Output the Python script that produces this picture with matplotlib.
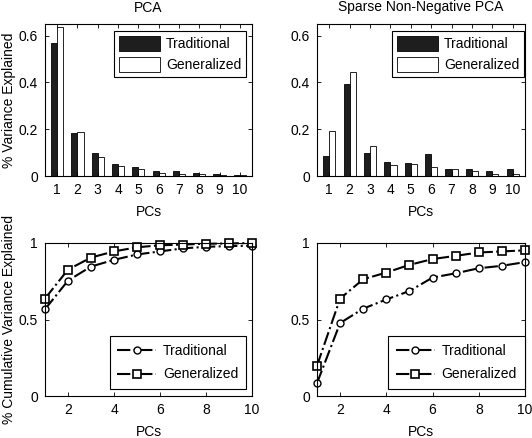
import matplotlib
matplotlib.use("Agg")
import matplotlib.pyplot as plt
import numpy as np

plt.rcParams['font.family'] = ['Liberation Sans', 'DejaVu Sans']
plt.rcParams['font.size'] = 10

pcs = np.arange(1, 11)

pca_trad = [0.568, 0.186, 0.100, 0.053, 0.039, 0.020, 0.020, 0.014, 0.010, 0.006]
pca_gen = [0.637, 0.189, 0.081, 0.043, 0.029, 0.014, 0.010, 0.010, 0.006, 0.006]

snn_trad = [0.086, 0.393, 0.100, 0.061, 0.057, 0.096, 0.029, 0.029, 0.020, 0.029]
snn_gen = [0.193, 0.443, 0.129, 0.047, 0.053, 0.039, 0.029, 0.020, 0.010, 0.010]

cum_pca_trad = [0.567, 0.754, 0.846, 0.890, 0.925, 0.945, 0.965, 0.975, 0.980, 0.982]
cum_pca_gen = [0.637, 0.826, 0.905, 0.945, 0.972, 0.985, 0.990, 0.995, 0.997, 1.000]

cum_snn_trad = [0.084, 0.477, 0.571, 0.631, 0.686, 0.774, 0.802, 0.835, 0.851, 0.875]
cum_snn_gen = [0.198, 0.637, 0.763, 0.807, 0.857, 0.895, 0.916, 0.938, 0.945, 0.952]

titles = ["PCA", "Sparse Non-Negative PCA"]
labels = ["Traditional", "Generalized"]

fig = plt.figure(figsize=(5.32, 4.38), dpi=100)
W, H = 532, 438

def ax_at(l, t, r, b):
    return fig.add_axes([l / W, (H - b) / H, (r - l) / W, (b - t) / H])

def style(ax):
    ax.tick_params(direction='in', length=3, top=True, right=True, width=0.6,
                   labelsize=10, pad=5)
    for s in ax.spines.values():
        s.set_linewidth(0.8)

ax1 = ax_at(45, 24, 252, 176)
ax2 = ax_at(317, 24, 525, 176)
ax3 = ax_at(45, 243, 252, 396)
ax4 = ax_at(317, 243, 525, 396)

bw = 0.3
for ax, tr, ge, title, lx in [(ax1, pca_trad, pca_gen, titles[0], 0.971),
                               (ax2, snn_trad, snn_gen, titles[1], 0.995)]:
    ax.bar(pcs - bw / 2, tr, width=bw, color='#1e1e1e', edgecolor='black',
           linewidth=0.6, label=labels[0])
    ax.bar(pcs + bw / 2, ge, width=bw, color='white', edgecolor='black',
           linewidth=0.6, label=labels[1])
    ax.set_xlim(0.4, 10.6)
    ax.set_ylim(0, 0.65)
    ax.set_xticks(pcs)
    ax.set_yticks([0, 0.2, 0.4, 0.6])
    ax.set_yticklabels(['0', '0.2', '0.4', '0.6'])
    ax.set_xlabel('PCs', labelpad=6)
    ax.set_title(title, fontsize=10, pad=9)
    style(ax)
    leg = ax.legend(loc='upper right', bbox_to_anchor=(lx, 0.954),
                    borderaxespad=0, fancybox=False, framealpha=1,
                    edgecolor='black', handlelength=3.0, handleheight=1.3,
                    handletextpad=0.4, borderpad=0.35, labelspacing=0.42,
                    fontsize=10)
    leg.get_frame().set_linewidth(0.8)

ax1.set_ylabel('% Variance Explained', labelpad=2)

for ax, tr, ge, lx in [(ax3, cum_pca_trad, cum_pca_gen, 0.971),
                        (ax4, cum_snn_trad, cum_snn_gen, 0.998)]:
    ax.plot(pcs, tr, linestyle='-.', color='black', linewidth=1.5, marker='o',
            markersize=5, markerfacecolor='white', markeredgecolor='black',
            markeredgewidth=1.0, label=labels[0], clip_on=False)
    ax.plot(pcs, ge, linestyle='-.', color='black', linewidth=1.5, marker='s',
            markersize=6, markerfacecolor='white', markeredgecolor='black',
            markeredgewidth=1.2, label=labels[1], clip_on=False)
    ax.set_xlim(1, 10)
    ax.set_ylim(0, 1)
    ax.set_xticks([2, 4, 6, 8, 10])
    ax.set_yticks([0, 0.5, 1])
    ax.set_yticklabels(['0', '0.5', '1'])
    ax.set_xlabel('PCs', labelpad=6)
    style(ax)
    leg = ax.legend(loc='lower right', bbox_to_anchor=(lx, 0.045),
                    borderaxespad=0, fancybox=False, framealpha=1,
                    edgecolor='black', handlelength=2.8,
                    handletextpad=0.5, borderpad=0.55, labelspacing=0.7,
                    fontsize=10)
    leg.get_frame().set_linewidth(0.8)

ax3.set_ylabel('% Cumulative Variance Explained', labelpad=2)

fig.savefig('out.png', dpi=100)
